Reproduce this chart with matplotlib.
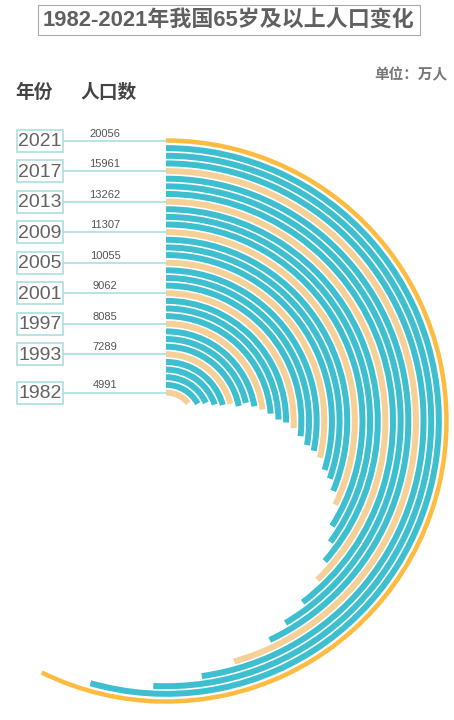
import numpy as np
import matplotlib
matplotlib.use("Agg")
from matplotlib import pyplot as plt
from matplotlib.patches import Rectangle

plt.rcParams['font.family'] = ['Liberation Sans', 'Noto Sans CJK SC', 'DejaVu Sans']

# 年份与65岁及以上人口（万人）
years = [1982, 1987, 1990, 1991, 1992, 1993, 1994, 1995, 1996, 1997,
         1998, 1999, 2000, 2001, 2002, 2003, 2004, 2005, 2006, 2007,
         2008, 2009, 2010, 2011, 2012, 2013, 2014, 2015, 2016, 2017,
         2018, 2019, 2020, 2021]
pop = [4991, 5968, 6368, 6938, 7218, 7289, 7622, 7510, 7833, 8085,
       8359, 8679, 8821, 9062, 9377, 9692, 9857, 10055, 10419, 10636,
       10956, 11307, 11894, 12288, 12777, 13262, 13902, 14524, 15037, 15961,
       16724, 17767, 19064, 20056]
label_years = [1982, 1993, 1997, 2001, 2005, 2009, 2013, 2017, 2021]

W, H = 454, 720
cx, cy = 166, 421          # 圆心（像素，从上往下）
r0, step = 28.5, 7.636     # 最内圈半径，圈间距
full = 35000               # 一整圈对应的人口数

teal = '#3dbfcf'
light = '#f5d197'
yellow = '#fdbb40'
line_c = '#aadfdb'

fig = plt.figure(figsize=(W / 100, H / 100), dpi=100)

# 极坐标画圆弧
S = 300
ax = fig.add_axes([(cx - S) / W, (H - cy - S) / H, 2 * S / W, 2 * S / H],
                  projection='polar')
ax.set_theta_zero_location('N')
ax.set_theta_direction(-1)
ax.set_rlim(0, S)
ax.axis('off')

for i, (y, v) in enumerate(zip(years, pop)):
    r = r0 + i * step
    ang = v / full * 2 * np.pi
    if y == 2021:
        c, t = yellow, 4.5
    elif y in label_years:
        c, t = light, 6
    else:
        c, t = teal, 6
    ax.bar(ang / 2, t, width=ang, bottom=r - t / 2, color=c, linewidth=0)

# 文字层
ax2 = fig.add_axes([0, 0, 1, 1])
ax2.set_xlim(0, W)
ax2.set_ylim(H, 0)
ax2.axis('off')

ax2.text(229, 20, '1982-2021年我国65岁及以上人口变化', fontsize=15.8, color='#606060',
         fontweight='bold', ha='center', va='center',
         bbox=dict(boxstyle='square,pad=0.22', fc='white', ec='#aaaaaa', lw=0.8))
ax2.text(15, 93, '年份', fontsize=13.5, fontweight='bold', color='#444444', va='center')
ax2.text(80, 93, '人口数', fontsize=13.5, fontweight='bold', color='#444444', va='center')
ax2.text(447, 75, '单位：万人', fontsize=10.5, fontweight='bold', color='#777777',
         ha='right', va='center')

for i, (y, v) in enumerate(zip(years, pop)):
    if y not in label_years:
        continue
    ly = cy - (r0 + i * step)
    ax2.plot([63, cx], [ly, ly], color=line_c, lw=1.2, zorder=1)
    ax2.add_patch(Rectangle((17, ly - 11), 46, 22, fc='white', ec=line_c, lw=1.2, zorder=2))
    ax2.text(40, ly + 1, str(y), fontsize=14, color='#636363', ha='center', va='center', zorder=3)
    ax2.text(105, ly - 7, str(v), fontsize=8, color='#555555', ha='center', va='center', zorder=3)

fig.savefig('out.png', dpi=100)
